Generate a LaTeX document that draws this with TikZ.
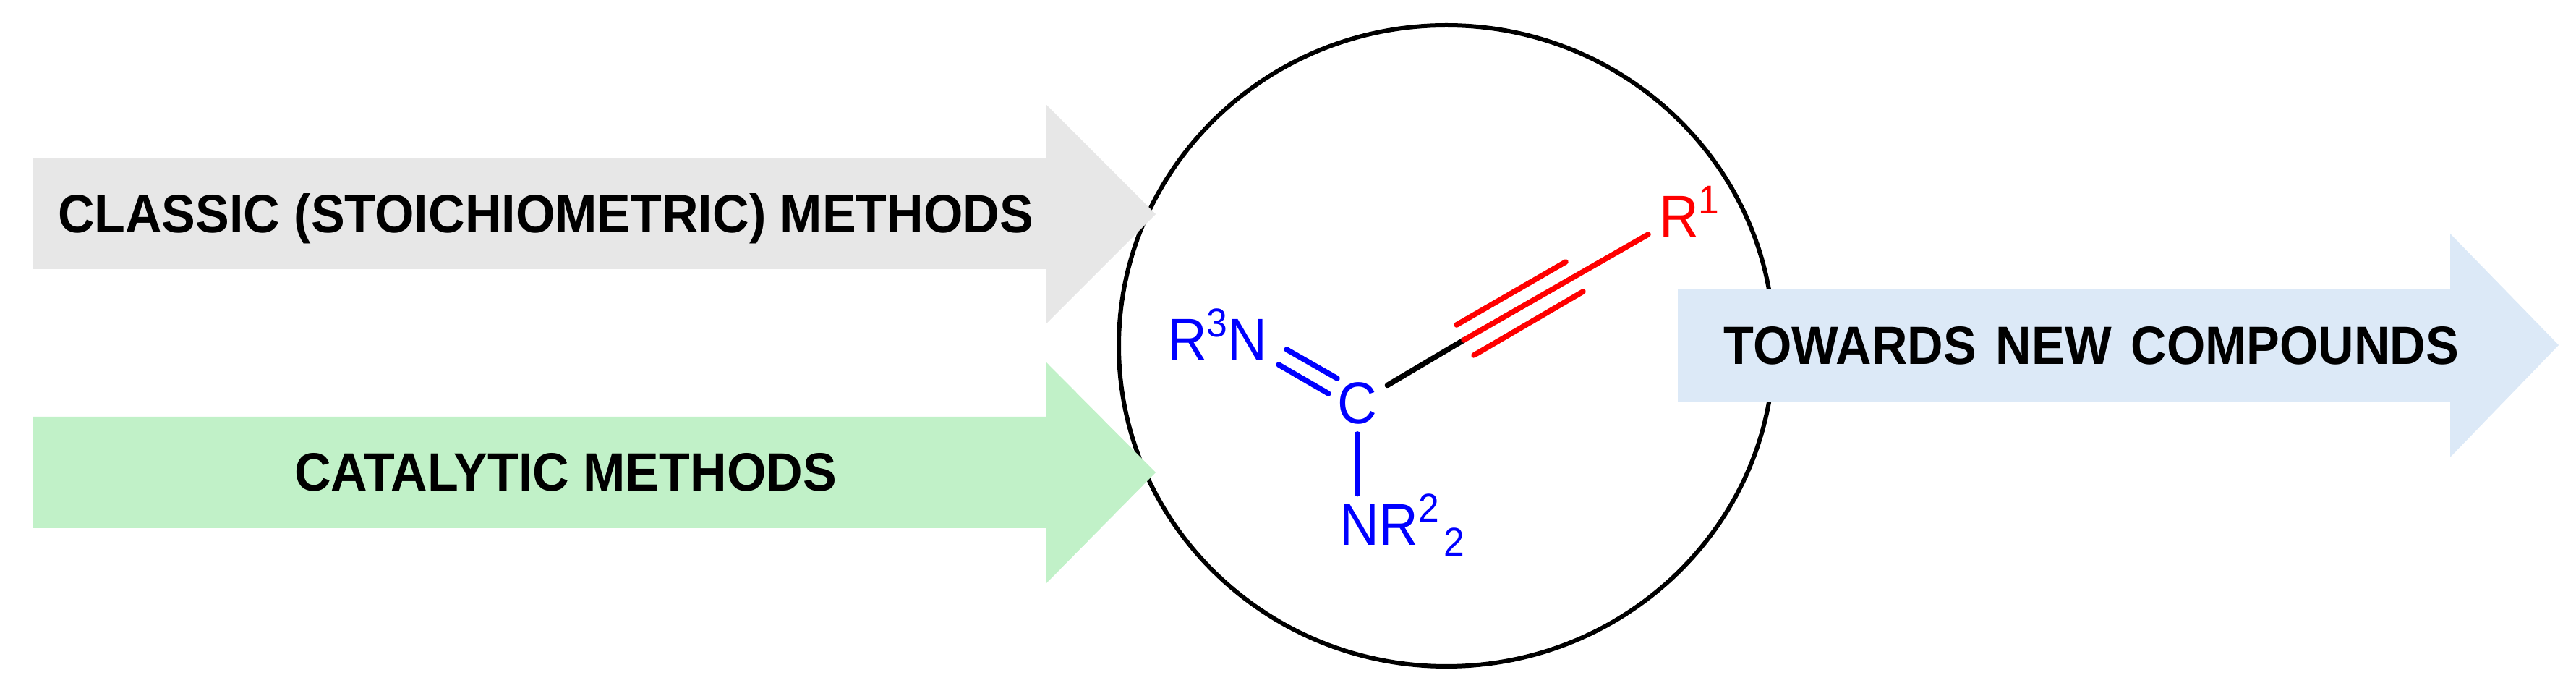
\documentclass[tikz,border=0pt]{standalone}
\usepackage{fontspec}
\setmainfont{Liberation Sans}
\newfontfamily\bandfont{Liberation Sans}[FakeStretch=0.94]
\newfontfamily\towardsfont{Liberation Sans}[FakeStretch=0.92]
\newfontfamily\atomfont{Liberation Sans}[FakeStretch=0.93]
\usepackage{tikz}
\definecolor{greyarrow}{HTML}{E7E7E7}
\definecolor{greenarrow}{HTML}{C1F1C8}
\definecolor{bluearrow}{HTML}{DCE9F7}
\newcommand{\atomup}[1]{\raisebox{0.40em}{\fontsize{15.8}{15.8}\selectfont #1}}
\newcommand{\atomdown}[1]{\raisebox{-0.18em}{\fontsize{15.8}{15.8}\selectfont #1}}

\begin{document}
\begin{tikzpicture}[
    every node/.style={inner sep=0pt, outer sep=0pt},
    band/.style={fill=#1, draw=none},
    bandtext/.style={anchor=base, font=\bandfont\fontsize{21.2}{21.2}\selectfont\bfseries, text=black},
    atom/.style={anchor=base west, font=\atomfont\fontsize{23.2}{23.2}\selectfont, text=#1},
    bond/.style={line width=0.075cm, line cap=round, draw=#1}]
  \useasboundingbox (0,0) rectangle (35.62,9.44);

  % Ring
  \draw[line width=0.06cm] (20.00,4.66) ellipse [x radius=4.53, y radius=4.43];

  % Incoming arrows
  \fill[band=greyarrow] (0.45,7.25) -- (14.46,7.25) -- (14.46,8.00) -- (15.98,6.48) -- (14.46,4.96) -- (14.46,5.72) -- (0.45,5.72) -- cycle;
  \node[bandtext] (classic) at (7.545,6.22) {CLASSIC (STOICHIOMETRIC) METHODS};

  \fill[band=greenarrow] (0.45,3.68) -- (14.46,3.68) -- (14.46,4.44) -- (15.98,2.91) -- (14.46,1.37) -- (14.46,2.14) -- (0.45,2.14) -- cycle;
  \node[bandtext] (catalytic) at (7.82,2.65) {CATALYTIC METHODS};

  % Outgoing arrow
  \fill[band=bluearrow] (23.20,5.44) -- (33.88,5.44) -- (33.88,6.21) -- (35.38,4.67) -- (33.88,3.12) -- (33.88,3.89) -- (23.20,3.89) -- cycle;
  \node[bandtext, font=\towardsfont\fontsize{21.2}{21.2}\selectfont\bfseries] (towards) at (28.92,4.40) {TOWARDS\hspace{0.27cm}NEW\hspace{0.27cm}COMPOUNDS};

  % Atoms
  \node[atom=blue, anchor=center, inner sep=0.14cm] (carbon) at (18.77,3.87) {C};
  \node[atom=red] (rone) at (22.94,6.16) {R\atomup{1}};
  \node[atom=blue] (imine) at (16.14,4.46) {R\atomup{3}N};
  \node[atom=blue] (amine) at (18.52,1.90) {NR\atomup{2}\hspace{0.06cm}\atomdown{2}};

  % Bond ends
  \coordinate (alkA) at (20.24,4.74);
  \coordinate (alkB) at (22.79,6.20);
  \coordinate (upA) at (20.14,4.95);
  \coordinate (upB) at (21.65,5.82);
  \coordinate (lowA) at (20.38,4.53);
  \coordinate (lowB) at (21.89,5.41);
  \coordinate (dblA) at (18.49,4.21);
  \coordinate (dblB) at (17.79,4.61);
  \coordinate (dblC) at (18.37,4.00);
  \coordinate (dblD) at (17.68,4.40);

  % Bonds
  \draw[bond=black] (carbon) -- (alkA);
  \draw[bond=red] (alkA) -- (alkB);
  \draw[bond=red] (upA) -- (upB);
  \draw[bond=red] (lowA) -- (lowB);
  \draw[bond=blue] (dblA) -- (dblB);
  \draw[bond=blue] (dblC) -- (dblD);
  \draw[bond=blue] (carbon) -- (carbon |- amine.north);
\end{tikzpicture}
\end{document}
